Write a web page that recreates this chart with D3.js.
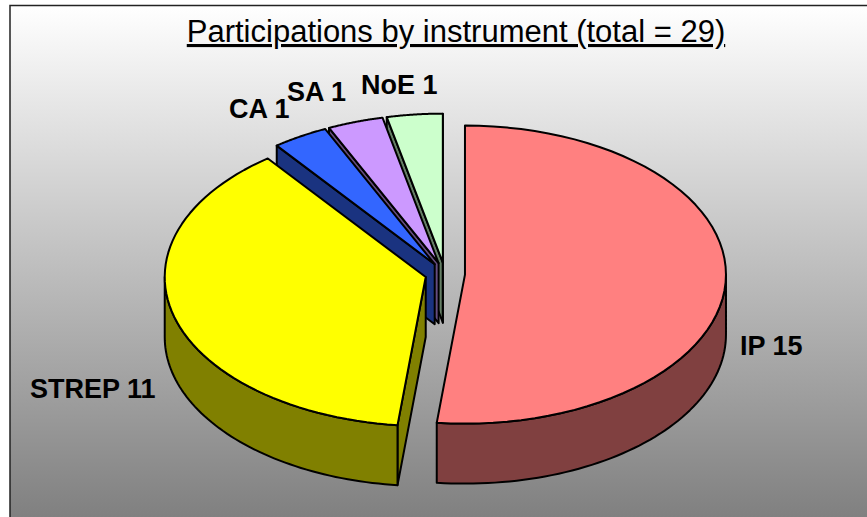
<!DOCTYPE html>
<html>
<head>
<meta charset="utf-8">
<script src="https://cdn.jsdelivr.net/npm/d3@7"></script>
<style>
html, body { margin: 0; padding: 0; background: #fff; }
svg { display: block; }
text { font-family: "Liberation Sans", Arial, sans-serif; }
</style>
</head>
<body>
<script>
var categories = ["IP", "STREP", "CA", "SA", "NoE"];
var values = [15, 11, 1, 1, 1];
var colors = ["#ff8080", "#ffff00", "#3366ff", "#cc99ff", "#ccffcc"];
var chartTitle = "Participations by instrument (total = 29)";

var width = 867, height = 517,
    cx = 445, cy = 274,      // pie centre before the slices are pulled out
    rx = 261, ry = 149,      // ellipse of the top face
    depth = 60,
    explode = 20;

// hand placed in the original, same here
var labelAnchors = [[740, 355], [30, 398], [229, 118], [287, 101], [361, 94]];

var svg = d3.select("body").append("svg")
    .attr("width", width)
    .attr("height", height);

var defs = svg.append("defs");
var grad = defs.append("linearGradient")
    .attr("id", "bg")
    .attr("x1", 0).attr("y1", 0).attr("x2", 0).attr("y2", 1);
grad.append("stop").attr("offset", "0%").attr("stop-color", "#ffffff");
grad.append("stop").attr("offset", "100%").attr("stop-color", "#808080");

svg.append("rect")
    .attr("x", 10).attr("y", 5)
    .attr("width", width - 10).attr("height", height - 5)
    .attr("fill", "url(#bg)");

svg.append("path")
    .attr("d", "M10," + height + "V5.5H" + width)
    .attr("fill", "none")
    .attr("stroke", "#222")
    .attr("stroke-width", 1.5);

var pie = d3.pie().sort(null).value(function(d) { return d; });
var slices = pie(values);

// angle measured clockwise from the top, as d3.pie does
function px(c, a) { return c + rx * Math.sin(a); }
function py(c, a) { return c - ry * Math.cos(a); }

var line = d3.line();

function half(c) {
  var r = d3.rgb(c);
  return d3.rgb(r.r / 2, r.g / 2, r.b / 2).formatHex();
}

function arcPoints(c0, c1, a0, a1, dy) {
  return d3.range(0, 61).map(function(i) {
    var a = a0 + (a1 - a0) * i / 60;
    return [px(c0, a), py(c1, a) + dy];
  });
}

function sideFace(sx, sy, a) {
  return line([
    [sx, sy],
    [px(sx, a), py(sy, a)],
    [px(sx, a), py(sy, a) + depth],
    [sx, sy + depth]
  ]) + "Z";
}

function wallFace(sx, sy, a0, a1) {
  var top = arcPoints(sx, sy, a0, a1, 0);
  var bottom = arcPoints(sx, sy, a1, a0, depth);
  return line(top.concat(bottom)) + "Z";
}

function topFace(sx, sy, a0, a1) {
  return line([[sx, sy]].concat(arcPoints(sx, sy, a0, a1, 0))) + "Z";
}

// back to front: small slices first, then yellow, then pink
var order = [4, 3, 2, 1, 0];

order.forEach(function(i) {
  var d = slices[i],
      mid = (d.startAngle + d.endAngle) / 2,
      sx = cx + explode * Math.sin(mid),
      sy = cy - explode * (ry / rx) * Math.cos(mid),
      g = svg.append("g").attr("class", "slice")
        .attr("stroke", "#000").attr("stroke-width", 2).attr("stroke-linejoin", "round");

  // cut face on the start side shows only when it looks down at the viewer
  if (Math.cos(d.startAngle - Math.PI / 2) < 0) {
    g.append("path").attr("d", sideFace(sx, sy, d.startAngle)).attr("fill", half(colors[i]));
  }
  if (Math.cos(d.endAngle + Math.PI / 2) < 0) {
    g.append("path").attr("d", sideFace(sx, sy, d.endAngle)).attr("fill", half(colors[i]));
  }

  // outer wall, front half of the ellipse only
  var w0 = Math.max(d.startAngle, Math.PI / 2),
      w1 = Math.min(d.endAngle, 3 * Math.PI / 2);
  if (w1 > w0) {
    g.append("path").attr("d", wallFace(sx, sy, w0, w1)).attr("fill", half(colors[i]));
  }

  g.append("path").attr("d", topFace(sx, sy, d.startAngle, d.endAngle)).attr("fill", colors[i]);
});

svg.selectAll("text.label")
    .data(categories)
  .enter().append("text")
    .attr("class", "label")
    .attr("x", function(d, i) { return labelAnchors[i][0]; })
    .attr("y", function(d, i) { return labelAnchors[i][1]; })
    .attr("font-size", 27)
    .attr("font-weight", "bold")
    .attr("fill", "#000")
    .text(function(d, i) { return d + " " + values[i]; });

svg.append("text")
    .attr("x", 456)
    .attr("y", 42)
    .attr("text-anchor", "middle")
    .attr("font-size", 31)
    .attr("fill", "#000")
    .attr("text-decoration", "underline")
    .text(chartTitle);
</script>
</body>
</html>
